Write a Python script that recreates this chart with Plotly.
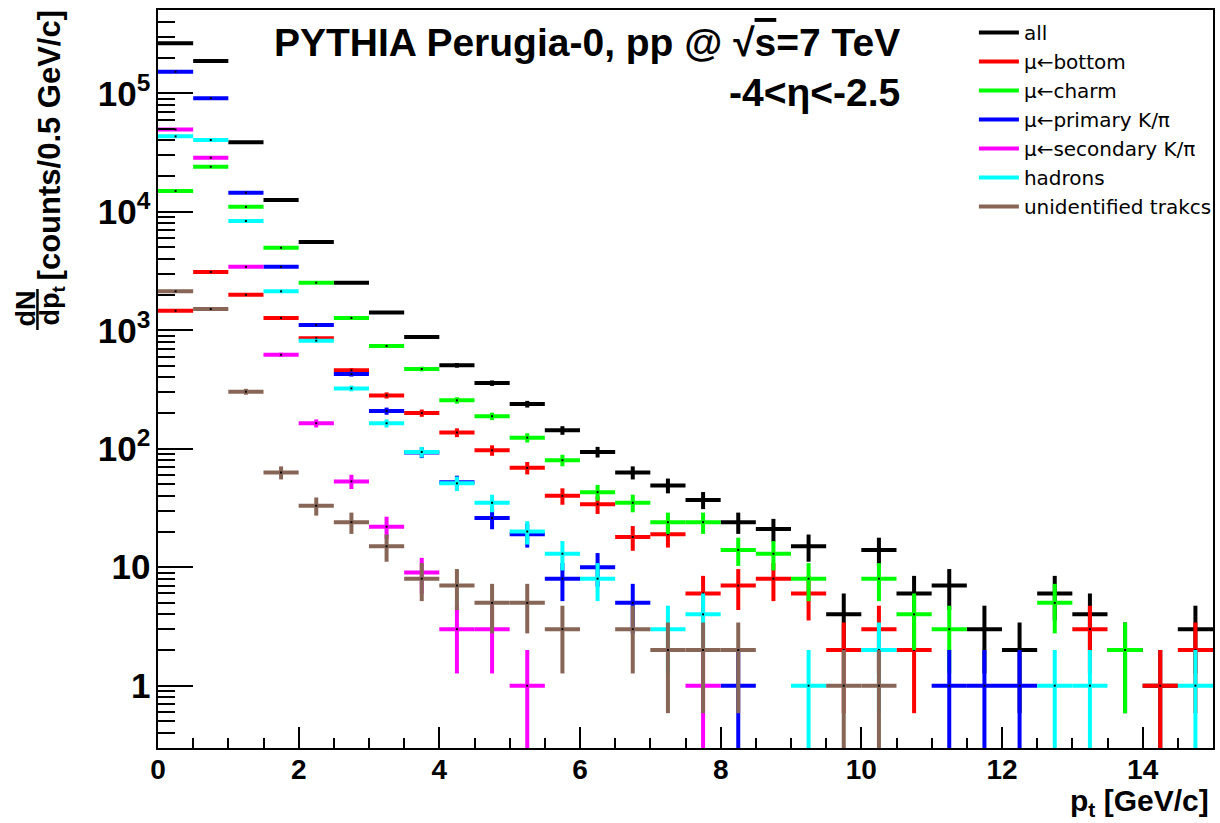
import math
import plotly.graph_objects as go

# pt bin centres (0.5 GeV/c bins from 0 to 15 GeV/c)
pt_bins = [0.25, 0.75, 1.25, 1.75, 2.25, 2.75, 3.25, 3.75, 4.25, 4.75,
           5.25, 5.75, 6.25, 6.75, 7.25, 7.75, 8.25, 8.75, 9.25, 9.75,
           10.25, 10.75, 11.25, 11.75, 12.25, 12.75, 13.25, 13.75, 14.25, 14.75]
half_bin = 0.25

# counts per bin for each muon source (None = empty bin)
all_tracks = [264000, 187000, 38700, 12600, 5550, 2520, 1410, 875, 506, 358,
              238, 143, 94, 63, 49, 37, 24, 21, 15, 4,
              14, 6, 7, 3, 2, 6, 4, 2, 1, 3]
mu_bottom = [1460, 3100, 1990, 1270, 855, 459, 282, 200, 137, 97,
             69, 40, 34, 18, 19, 6, 7, 8, 6, 2,
             3, 2, None, None, None, None, 3, None, 1, 2]
mu_charm = [15000, 24000, 11000, 4970, 2520, 1270, 736, 471, 256, 188,
            124, 80, 43, 35, 24, 24, 14, 13, 8, None,
            8, 4, 3, None, None, 5, None, 2, None, None]
mu_primary = [152000, 91000, 14500, 3430, 1110, 427, 208, 93, 52, 26,
              19, 8, 10, 5, None, None, 1, None, None, None,
              None, None, 1, 1, 1, None, None, None, None, None]
mu_secondary = [49500, 28600, 3430, 621, 164, 53, 22, 9, 3, 3,
                1, None, None, None, None, 1, None, None, None, None,
                None, None, None, None, None, None, None, None, None, None]
hadrons = [43300, 40300, 8360, 2130, 816, 323, 164, 94, 51, 35,
           20, 13, 8, None, 3, 4, None, None, 1, None,
           2, None, None, None, None, 1, 1, None, None, 1]
unidentified = [2130, 1510, 303, 63, 33, 24, 15, 8, 7, 5,
                5, 3, None, 3, 2, 2, 2, None, None, 1,
                1, None, None, None, None, None, None, None, None, None]

series = [
    ("all", all_tracks, "#000000"),
    ("\u03bc\u2190bottom", mu_bottom, "#ff0000"),
    ("\u03bc\u2190charm", mu_charm, "#00ff00"),
    ("\u03bc\u2190primary K/\u03c0", mu_primary, "#0000ff"),
    ("\u03bc\u2190secondary K/\u03c0", mu_secondary, "#ff00ff"),
    ("hadrons", hadrons, "#00ffff"),
    ("unidentified trakcs", unidentified, "#876657"),
]

# frame geometry in pixels
W, H = 1220, 823
L, R, T, B = 158, 3, 10, 75
PW, PH = W - L - R, H - T - B


def px2x(px):
    return (px - L) / PW


def py2y(py):
    return (H - B - py) / PH


BOLD = "Liberation Sans, Arial, sans-serif"
LW = 4

fig = go.Figure()

for name, counts, color in series:
    xs = [x for x, c in zip(pt_bins, counts) if c is not None]
    ys = [c for c in counts if c is not None]
    errs = [math.sqrt(c) for c in ys]
    fig.add_trace(go.Scatter(
        x=xs, y=ys, mode="markers", showlegend=False, name=name,
        marker=dict(size=2, color="#000000", symbol="square"),
        error_x=dict(type="constant", value=half_bin, color=color,
                     thickness=LW, width=0),
        error_y=dict(type="data", array=errs, symmetric=True, color=color,
                     thickness=LW, width=0),
    ))

# legend entries as line samples
for name, counts, color in series:
    fig.add_trace(go.Scatter(
        x=[None], y=[None], mode="lines", name=name,
        line=dict(color=color, width=LW), showlegend=True,
    ))

fig.update_layout(
    width=W, height=H,
    margin=dict(l=L, r=R, t=T, b=B, pad=0),
    paper_bgcolor="white", plot_bgcolor="white",
    showlegend=True,
    legend=dict(
        x=px2x(977), y=py2y(13), xanchor="left", yanchor="top",
        bgcolor="rgba(0,0,0,0)", borderwidth=0,
        font=dict(family="DejaVu Sans, sans-serif", size=20, color="black"),
        tracegroupgap=0, itemwidth=40,
    ),
    xaxis=dict(
        range=[0, 15], showgrid=False, zeroline=False,
        showline=True, linecolor="black", linewidth=2, mirror=True,
        ticks="inside", ticklen=21, tickwidth=2, tickcolor="black",
        tickvals=[0, 2, 4, 6, 8, 10, 12, 14], ticklabelstandoff=-5,
        tickfont=dict(family=BOLD, size=28, color="black", weight="bold"),
        minor=dict(ticks="inside", ticklen=10, tickwidth=2,
                   tickcolor="black", dtick=0.5, showgrid=False),
    ),
    yaxis=dict(
        type="log", range=[-0.526, 5.703], showgrid=False, zeroline=False,
        showline=True, linecolor="black", linewidth=2, mirror=True,
        ticks="inside", ticklen=35, tickwidth=2, tickcolor="black",
        dtick=1, exponentformat="power",
        tickfont=dict(family=BOLD, size=28, color="black", weight="bold"),
        minor=dict(ticks="inside", ticklen=17, tickwidth=2,
                   tickcolor="black", dtick="D1", showgrid=False),
    ),
)

annotations = [
    dict(text="<b>PYTHIA Perugia-0, pp @ \u221a<span style='text-decoration:overline'>s</span>=7 TeV</b>",
         x=px2x(905), y=py2y(42), xanchor="right", yanchor="middle",
         font=dict(family=BOLD, size=39, color="black")),
    dict(text="<b>-4&lt;\u03b7&lt;-2.5</b>",
         x=px2x(905), y=py2y(92), xanchor="right", yanchor="middle",
         font=dict(family=BOLD, size=39, color="black")),
    dict(text="<b>p<sub>t</sub> [GeV/c]</b>",
         x=px2x(1215), y=py2y(802), xanchor="right", yanchor="middle",
         font=dict(family=BOLD, size=30, color="black")),
    dict(text="<b>[counts/0.5 GeV/c]</b>", textangle=-90,
         x=px2x(49), y=py2y(145), xanchor="center", yanchor="middle",
         font=dict(family=BOLD, size=31, color="black")),
    dict(text="<b>dN</b>", textangle=-90,
         x=px2x(25), y=py2y(309), xanchor="center", yanchor="middle",
         font=dict(family=BOLD, size=27, color="black")),
    dict(text="<b>dp<sub>t</sub></b>", textangle=-90,
         x=px2x(52), y=py2y(305), xanchor="center", yanchor="middle",
         font=dict(family=BOLD, size=27, color="black")),
]
for a in annotations:
    a.update(xref="paper", yref="paper", showarrow=False)
fig.update_layout(annotations=annotations)

# fraction bar of the dN/dp_t label
fig.add_shape(type="line", xref="paper", yref="paper",
              x0=px2x(37), x1=px2x(37), y0=py2y(289), y1=py2y(330),
              line=dict(color="black", width=2.5))

fig.write_html("out.html")
